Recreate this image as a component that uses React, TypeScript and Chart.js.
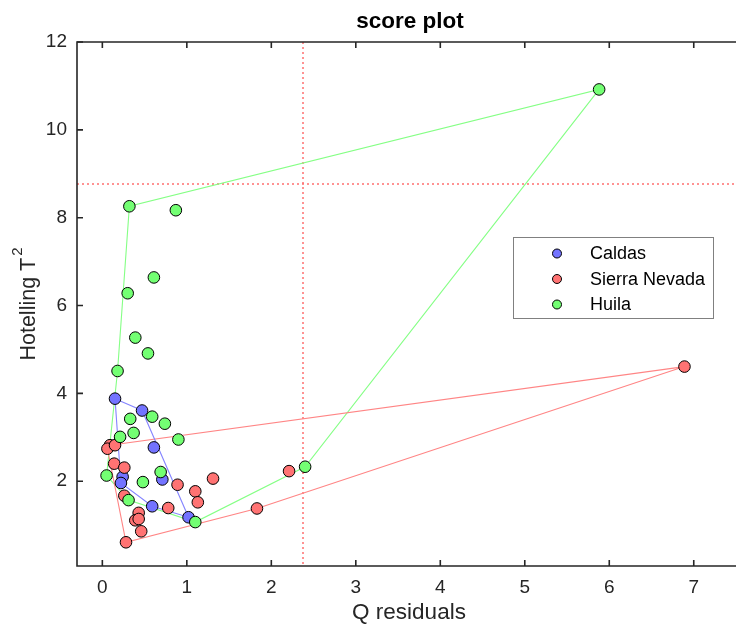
import { useEffect, useRef } from "react";
import { Chart, registerables } from "chart.js";

Chart.register(...registerables);

// ---- data ----
const seriesNames = ["Caldas", "Sierra Nevada", "Huila"];

const caldasQ = [0.15, 0.47, 0.61, 0.24, 0.22, 0.71, 0.59, 1.02];
const caldasT2 = [3.88, 3.61, 2.77, 2.1, 1.96, 2.04, 1.43, 1.18];
const caldasHull = [0, 4, 6, 7, 1];

const sierraQ = [6.89, 0.09, 0.06, 0.15, 0.14, 0.26, 0.89, 1.31, 1.1, 1.13, 0.26, 0.78, 0.43, 0.39, 0.43, 0.46, 0.28, 2.21, 1.83];
const sierraT2 = [4.61, 2.82, 2.74, 2.82, 2.4, 2.31, 1.92, 2.06, 1.77, 1.52, 1.67, 1.39, 1.28, 1.11, 1.14, 0.86, 0.61, 2.23, 1.38];
const sierraHull = [2, 1, 0, 18, 16];

const huilaQ = [5.88, 0.32, 0.87, 0.61, 0.3, 0.39, 0.54, 0.18, 0.33, 0.59, 0.74, 0.37, 0.21, 0.9, 0.05, 0.69, 0.48, 0.31, 1.1, 2.4];
const huilaT2 = [10.92, 8.26, 8.17, 6.64, 6.28, 5.27, 4.91, 4.51, 3.42, 3.47, 3.31, 3.1, 3.01, 2.95, 2.13, 2.21, 1.98, 1.57, 1.07, 2.33];
const huilaHull = [14, 7, 1, 0, 19, 18, 17];

const xTicks = [0, 1, 2, 3, 4, 5, 6, 7];
const yTicks = [2, 4, 6, 8, 10, 12];
const qLimit = 2.38;
const t2Limit = 8.76;

const fills = ["#7373ff", "#ff7373", "#73ff73"];
const lines = ["#8585ff", "#ff8585", "#85ff85"];

const FONT = "'Liberation Sans', Arial, Helvetica, sans-serif";
const AXIS = "#262626";

function pts(xs: number[], ys: number[]) {
  return xs.map((x, i) => ({ x, y: ys[i] }));
}
function hull(xs: number[], ys: number[], idx: number[]) {
  const p = idx.map((i) => ({ x: xs[i], y: ys[i] }));
  p.push({ x: xs[idx[0]], y: ys[idx[0]] });
  return p;
}

const decor = {
  id: "decor",
  beforeDatasetsDraw(chart: any) {
    const { ctx, chartArea: a } = chart;
    const x = chart.scales.x;
    const y = chart.scales.y;
    ctx.save();
    ctx.strokeStyle = "rgba(255,110,110,0.75)";
    ctx.lineWidth = 2;
    ctx.setLineDash([2, 3]);
    const px = Math.round(x.getPixelForValue(qLimit));
    ctx.beginPath();
    ctx.moveTo(px, a.top);
    ctx.lineTo(px, a.bottom);
    ctx.stroke();
    const py = Math.round(y.getPixelForValue(t2Limit));
    ctx.beginPath();
    ctx.moveTo(a.left, py);
    ctx.lineTo(a.right, py);
    ctx.stroke();
    ctx.restore();
  },
  afterDatasetsDraw(chart: any) {
    const { ctx, chartArea: a } = chart;
    const x = chart.scales.x;
    const y = chart.scales.y;
    ctx.save();
    // axes lines
    ctx.strokeStyle = AXIS;
    ctx.lineWidth = 1.6;
    ctx.beginPath();
    ctx.moveTo(a.right + 4, a.top);
    ctx.lineTo(a.left, a.top);
    ctx.lineTo(a.left, a.bottom);
    ctx.lineTo(a.right + 4, a.bottom);
    ctx.stroke();
    // ticks
    const tl = 6;
    ctx.beginPath();
    xTicks.forEach((v) => {
      const px = x.getPixelForValue(v);
      ctx.moveTo(px, a.bottom);
      ctx.lineTo(px, a.bottom - tl);
      ctx.moveTo(px, a.top);
      ctx.lineTo(px, a.top + tl);
    });
    yTicks.forEach((v) => {
      const py = y.getPixelForValue(v);
      ctx.moveTo(a.left, py);
      ctx.lineTo(a.left + tl, py);
    });
    ctx.stroke();
    // tick labels
    ctx.fillStyle = AXIS;
    ctx.font = `19px ${FONT}`;
    ctx.textAlign = "center";
    ctx.textBaseline = "middle";
    xTicks.forEach((v) => {
      ctx.fillText(String(v), x.getPixelForValue(v), a.bottom + 22);
    });
    ctx.textAlign = "right";
    yTicks.forEach((v) => {
      ctx.fillText(String(v), a.left - 10, y.getPixelForValue(v));
    });
    // axis titles
    ctx.font = `22.5px ${FONT}`;
    ctx.textAlign = "center";
    ctx.fillText("Q residuals", 409, a.bottom + 47);
    ctx.save();
    ctx.translate(27, (a.top + a.bottom) / 2);
    ctx.rotate(-Math.PI / 2);
    const main = "Hotelling T";
    ctx.font = `21.5px ${FONT}`;
    const w1 = ctx.measureText(main).width;
    ctx.font = `15px ${FONT}`;
    const w2 = ctx.measureText("2").width;
    const start = -(w1 + w2 + 2) / 2;
    ctx.textAlign = "left";
    ctx.font = `21.5px ${FONT}`;
    ctx.fillText(main, start, 2);
    ctx.font = `15px ${FONT}`;
    ctx.fillText("2", start + w1 + 2, -9);
    ctx.restore();
    // title
    ctx.fillStyle = "#000";
    ctx.font = `bold 22.5px ${FONT}`;
    ctx.textAlign = "center";
    ctx.fillText("score plot", 410, 22);
    // legend
    const lx = 513.5, ly = 237.5, lw = 200, lh = 81;
    ctx.fillStyle = "#fff";
    ctx.fillRect(lx, ly, lw, lh);
    ctx.strokeStyle = "#808080";
    ctx.lineWidth = 1;
    ctx.strokeRect(lx, ly, lw, lh);
    ctx.font = `18px ${FONT}`;
    ctx.textAlign = "left";
    ctx.textBaseline = "middle";
    seriesNames.forEach((name, i) => {
      const cy = ly + 16 + i * 25.5;
      ctx.beginPath();
      ctx.arc(557, cy, 4.5, 0, Math.PI * 2);
      ctx.fillStyle = fills[i];
      ctx.fill();
      ctx.strokeStyle = "#000";
      ctx.lineWidth = 1;
      ctx.stroke();
      ctx.fillStyle = "#000";
      ctx.fillText(name, 590, cy + 1);
    });
    ctx.restore();
  },
};

export default function App() {
  const ref = useRef<HTMLCanvasElement | null>(null);
  useEffect(() => {
    if (!ref.current) return;
    const pointDs = (i: number, xs: number[], ys: number[], order: number) => ({
      label: seriesNames[i],
      data: pts(xs, ys),
      showLine: false,
      pointRadius: 5.8,
      pointHoverRadius: 5.8,
      pointBackgroundColor: fills[i],
      pointBorderColor: "#000",
      pointBorderWidth: 1,
      order,
    });
    const hullDs = (i: number, xs: number[], ys: number[], idx: number[]) => ({
      label: seriesNames[i] + " hull",
      data: hull(xs, ys, idx),
      showLine: true,
      borderColor: lines[i],
      borderWidth: 1.1,
      pointRadius: 0,
      fill: false,
      order: 10 + i,
    });
    const chart = new Chart(ref.current, {
      type: "scatter",
      data: {
        datasets: [
          hullDs(0, caldasQ, caldasT2, caldasHull),
          hullDs(1, sierraQ, sierraT2, sierraHull),
          hullDs(2, huilaQ, huilaT2, huilaHull),
          pointDs(0, caldasQ, caldasT2, 3),
          pointDs(1, sierraQ, sierraT2, 2),
          pointDs(2, huilaQ, huilaT2, 1),
        ] as any,
      },
      options: {
        responsive: false,
        animation: false,
        events: [],
        layout: { autoPadding: false, padding: { top: 42, left: 0, right: 0, bottom: 0 } },
        plugins: { legend: { display: false }, tooltip: { enabled: false }, title: { display: false } },
        scales: {
          x: {
            type: "linear",
            min: -0.3,
            max: 7.5,
            grid: { display: false },
            border: { display: false },
            ticks: { display: false },
            afterFit: (s: any) => {
              s.height = 60;
            },
          },
          y: {
            type: "linear",
            min: 0.07,
            max: 12,
            grid: { display: false },
            border: { display: false },
            ticks: { display: false },
            afterFit: (s: any) => {
              s.width = 77;
            },
          },
        },
      } as any,
      plugins: [decor],
    });
    return () => chart.destroy();
  }, []);
  return (
    <div style={{ position: "absolute", left: 0, top: 0, width: 736, height: 626, background: "#fff", overflow: "hidden" }}>
      <canvas ref={ref} width={736} height={626} style={{ display: "block" }} />
    </div>
  );
}
